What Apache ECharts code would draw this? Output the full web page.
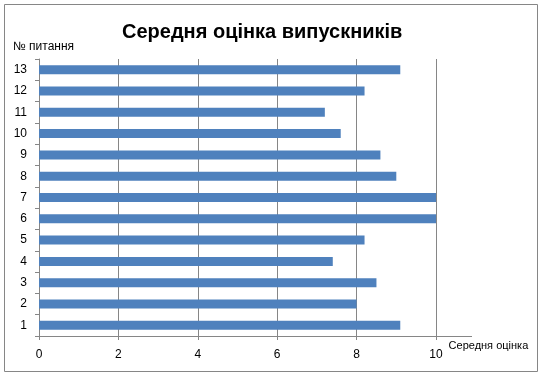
<!DOCTYPE html>
<html><head><meta charset="utf-8">
<script src="https://cdn.jsdelivr.net/npm/echarts@6/dist/echarts.min.js"></script>
<style>html,body{margin:0;padding:0;background:#fff}#c{width:542px;height:376px}</style>
</head><body><div id="c"></div>
<script>
const categories = ['1','2','3','4','5','6','7','8','9','10','11','12','13'];
const values = [9.1, 8.0, 8.5, 7.4, 8.2, 10, 10, 9.0, 8.6, 7.6, 7.2, 8.2, 9.1];
const titleText = 'Середня оцінка випускників';
const xName = 'Середня оцінка';
const yName = '№ питання';

const chart = echarts.init(document.getElementById('c'));
const gridColor = '#868686';
chart.setOption({
  animation: false,
  title: {
    text: titleText, left: 117, top: 17,
    textStyle: {fontFamily: 'Liberation Sans', fontWeight: 'bold', fontSize: 20, color: '#000'}
  },
  graphic: [
    {type: 'rect', shape: {x: 4.5, y: 4.5, width: 533, height: 367}, style: {fill: 'none', stroke: gridColor, lineWidth: 1}, silent: true},
    {type: 'line', shape: {x1: 436, y1: 336.5, x2: 472, y2: 336.5}, style: {stroke: gridColor, lineWidth: 1}, silent: true}
  ],
  grid: {left: 39, top: 59, right: 106, bottom: 40},
  xAxis: {
    type: 'value', min: 0, max: 10, interval: 2,
    name: xName, nameLocation: 'end', nameGap: 7,
    nameTextStyle: {fontFamily: 'Liberation Sans', fontSize: 11, color: '#000', align: 'left', verticalAlign: 'top', padding: [4, 0, 0, 0]},
    axisLine: {show: true, lineStyle: {color: gridColor}},
    axisTick: {show: true, length: 4, lineStyle: {color: gridColor}},
    axisLabel: {fontFamily: 'Liberation Sans', fontSize: 12, color: '#000', margin: 13},
    splitLine: {show: true, lineStyle: {color: gridColor, width: 1}}
  },
  yAxis: {
    type: 'category', data: categories,
    name: yName, nameLocation: 'end', nameGap: 6,
    nameTextStyle: {fontFamily: 'Liberation Sans', fontSize: 12, color: '#000', align: 'center', padding: [0, 0, 0, 9]},
    axisLine: {show: true, lineStyle: {color: gridColor}},
    axisTick: {show: true, length: 4, lineStyle: {color: gridColor}},
    axisLabel: {fontFamily: 'Liberation Sans', fontSize: 12, color: '#000', margin: 12},
    splitLine: {show: false}
  },
  series: [{
    type: 'bar', data: values, barWidth: 9,
    itemStyle: {color: '#4F81BD'}
  }]
});
</script></body></html>
